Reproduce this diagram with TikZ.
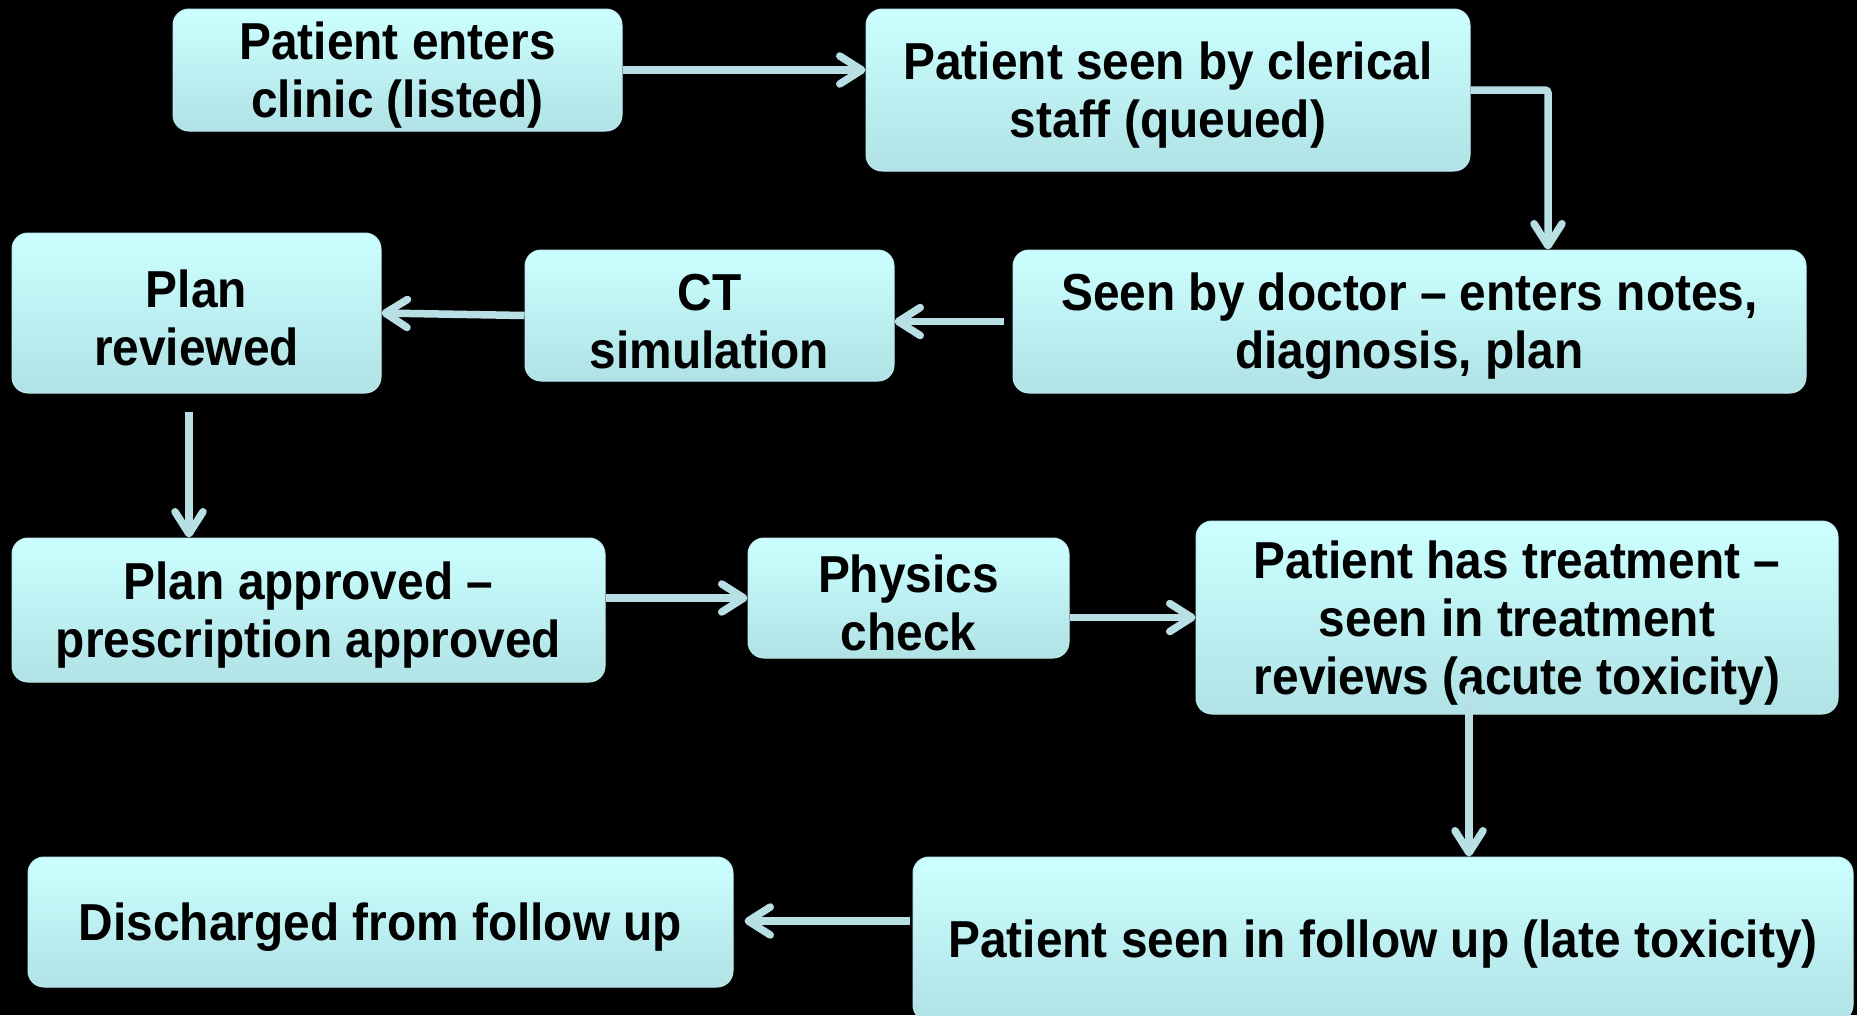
\documentclass[tikz,border=0pt]{standalone}
\usepackage{fontspec}
\setmainfont{Liberation Sans}[FakeStretch=0.92]
\usetikzlibrary{arrows.meta,calc,shadings}
\definecolor{boxtop}{RGB}{204,255,255}
\definecolor{boxbot}{RGB}{176,226,230}
\definecolor{boxline}{RGB}{190,235,238}
\definecolor{arrowc}{RGB}{184,224,228}
\newcommand\toppad{\rule{0pt}{48pt}}
\tikzset{
  flowbox/.style={draw=boxline, line width=1pt, rounded corners=16pt,
    top color=boxtop, bottom color=boxbot, align=center,
    inner sep=0pt, font=\fontsize{52}{58}\selectfont\bfseries, text=black},
  flowarrow/.style={draw=arrowc, line width=7.5pt, rounded corners=3pt,
    -{Straight Barb[length=22pt,width=28pt,line cap=round,line join=round]}}
}
\begin{document}
\begin{tikzpicture}[x=1pt,y=-1pt]
\useasboundingbox[fill=black] (0,0) rectangle (1857,1015);
\begin{scope}
\clip (0,0) rectangle (1857,1015);
\node[flowbox, minimum width=449pt, minimum height=122pt] (B1) at (397.5,70) {\toppad Patient enters\\clinic (listed)};
\node[flowbox, minimum width=604pt, minimum height=162pt] (B2) at (1168,90) {\toppad Patient seen by clerical\\staff (queued)};
\node[flowbox, minimum width=793pt, minimum height=143pt] (B3) at (1409.5,321.5) {\toppad Seen by doctor -- enters notes,\\diagnosis, plan};
\node[flowbox, minimum width=369pt, minimum height=131pt] (B4) at (709.5,315.5) {\toppad CT\\simulation};
\node[flowbox, minimum width=369pt, minimum height=160pt] (B5) at (196.5,313) {\toppad Plan\\reviewed};
\node[flowbox, minimum width=593pt, minimum height=144pt] (B6) at (308.5,610) {\toppad Plan approved --\\prescription approved};
\node[flowbox, minimum width=321pt, minimum height=120pt] (B7) at (908.5,598) {\toppad Physics\\check};
\node[flowbox, minimum width=642pt, minimum height=193pt] (B8) at (1517,617.5) {\toppad Patient has treatment --\\seen in treatment\\reviews (acute toxicity)};
\node[flowbox, minimum width=705pt, minimum height=130pt] (B9) at (380.5,922) {\toppad Discharged from follow up};
\node[flowbox, minimum width=940pt, minimum height=164pt] (B10) at (1383,939) {\toppad Patient seen in follow up (late toxicity)};

\coordinate (c2) at ($(B3.north)+(138.5,0)$);
\coordinate (c5a) at ($(B5.south)+(-7.5,18)$);
\coordinate (c8a) at ($(B8.south)+(-48,-29)$);
\coordinate (c10a) at ($(B10.west)+(-3,-18)$);
\coordinate (c9a) at ($(B9.east)+(11,-1)$);

\draw[flowarrow] (B1.east) -- (B1.east -| B2.west);
\draw[flowarrow] (B2.east) -| (c2);
\draw[flowarrow] ($(B3.west)+(-9,0)$) -- (B3.west -| B4.east);
\draw[flowarrow] (B4.west) -- (B5.east);
\draw[flowarrow] (c5a) -- (c5a |- B6.north);
\draw[flowarrow] (B6.east |- B7.west) -- (B7.west);
\draw[flowarrow] (B7.east |- B8.west) -- (B8.west);
\draw[flowarrow] (c8a) -- (c8a |- B10.north);
\draw[flowarrow] (c10a) -- (c9a);
\end{scope}
\end{tikzpicture}
\end{document}
